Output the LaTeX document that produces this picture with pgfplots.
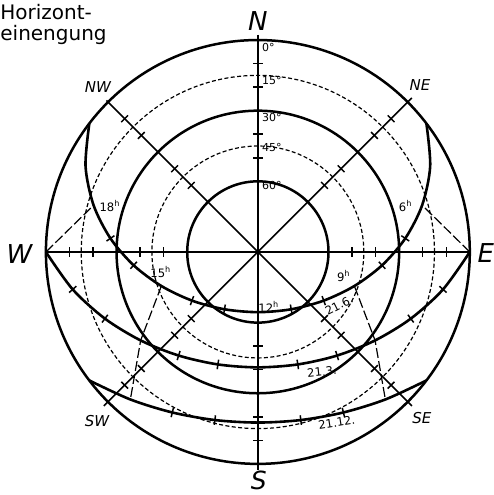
\documentclass[border=0pt]{standalone}
\usepackage{fontspec}
\setmainfont{DejaVu Sans}
\usepackage{pgfplots}
\usepackage{pgfplotstable}
\pgfplotsset{compat=1.18}

% sun paths, latitude about 49 N: azimuth from north (clockwise), altitude in degrees
\pgfplotstableread{
az alt
52.68 0
63.59 8.30
74.12 17.47
84.73 27.13
96.12 36.95
109.42 46.54
126.44 55.23
149.79 61.84
180 64.44
210.21 61.84
233.56 55.23
250.58 46.54
263.88 36.95
275.27 27.13
285.88 17.47
296.41 8.30
307.32 0
}\juni
\pgfplotstableread{
az alt
90 0
101.43 9.78
113.55 19.15
127.04 27.64
142.58 34.62
160.45 39.32
180 41
199.55 39.32
217.42 34.62
232.96 27.64
246.45 19.15
258.57 9.78
270 0
}\maerz
\pgfplotstableread{
az alt
127.32 0
139.16 7.21
151.94 12.77
165.67 16.33
180 17.56
194.33 16.33
208.06 12.77
220.84 7.21
232.68 0
}\dezember
% hour lines
\pgfplotstableread{
az alt
270 0
285.88 17.47
}\hEighteen
\pgfplotstableread{
az alt
90 0
74.12 17.47
}\hSix
\pgfplotstableread{
az alt
250.58 46.54
232.96 27.64
220.84 7.21
}\hFifteen
\pgfplotstableread{
az alt
109.42 46.54
127.04 27.64
139.16 7.21
}\hNine

\pgfplotsset{
  azalt/.style={data cs=polar},
  sun/.style={azalt, line width=1.3pt, smooth, no marks},
  hourline/.style={azalt, line width=0.6pt, no marks, dash pattern=on 5pt off 1.6pt},
  radial/.style={azalt, line width=0.8pt, no marks},
  rtick/.style={azalt, only marks, mark=|, mark size=2.4pt, mark options={line width=0.75pt, rotate=#1}},
}

\begin{document}
\begin{tikzpicture}
\begin{axis}[
  x=1.1778pt, y=1.1778pt,
  xmin=-109.5, xmax=100.2, ymin=-103.2, ymax=107,
  hide axis, clip=false,
]
\coordinate (bl) at (axis cs:-109.5,-103.2);
\coordinate (tr) at (axis cs:100.2,107);

% altitude rings (radius = 90 - altitude)
\draw[line width=1.25pt] (axis cs:0,0) circle[radius=90];
\draw[line width=1.25pt] (axis cs:0,0) circle[radius=60];
\draw[line width=1.25pt] (axis cs:0,0) circle[radius=30];
\draw[line width=0.6pt, dash pattern=on 2pt off 1.2pt] (axis cs:0,0) circle[radius=75];
\draw[line width=0.6pt, dash pattern=on 2pt off 1.2pt] (axis cs:0,0) circle[radius=45];

% direction lines (angle, radius)
\addplot[radial] coordinates {(90,92.3) (270,92.5)};
\addplot[radial] coordinates {(0,90.5) (180,90.5)};
\addplot[radial] coordinates {(45,92.5) (225,92.5)};
\addplot[radial] coordinates {(135,91) (315,92.5)};

% altitude ticks at 10, 20, 40, 50 degrees
\addplot[rtick=90] coordinates {(90,80) (90,70) (90,50) (90,40) (270,80) (270,70) (270,50) (270,40)};
\addplot[rtick=0] coordinates {(0,80) (0,70) (0,50) (0,40) (180,80) (180,70) (180,50) (180,40)};
\addplot[rtick=45] coordinates {(45,80) (45,70) (45,50) (45,40) (225,80) (225,70) (225,50) (225,40)};
\addplot[rtick=135] coordinates {(135,80) (135,70) (135,50) (135,40) (315,80) (315,70) (315,50) (315,40)};

% sun paths
\addplot[sun] table[x expr={90-\thisrow{az}}, y expr={90-\thisrow{alt}}] {\juni};
\addplot[sun] table[x expr={90-\thisrow{az}}, y expr={90-\thisrow{alt}}] {\maerz};
\addplot[sun] table[x expr={90-\thisrow{az}}, y expr={90-\thisrow{alt}}] {\dezember};

% hour lines
\addplot[hourline] table[x expr={90-\thisrow{az}}, y expr={90-\thisrow{alt}}] {\hEighteen};
\addplot[hourline] table[x expr={90-\thisrow{az}}, y expr={90-\thisrow{alt}}] {\hSix};
\addplot[hourline] table[x expr={90-\thisrow{az}}, y expr={90-\thisrow{alt}}] {\hFifteen};
\addplot[hourline] table[x expr={90-\thisrow{az}}, y expr={90-\thisrow{alt}}] {\hNine};

% hour ticks on the sun paths (angle, radius), rotated along the path
\addplot[rtick=56] coordinates {(5.27,62.87)};
\addplot[rtick=43] coordinates {(-6.12,53.05)};
\addplot[rtick=20] coordinates {(-36.44,34.77)};
\addplot[rtick=10] coordinates {(-59.79,28.16)};
\addplot[rtick=-10] coordinates {(-120.21,28.16)};
\addplot[rtick=-20] coordinates {(-143.56,34.77)};
\addplot[rtick=-43] coordinates {(-173.88,53.05)};
\addplot[rtick=-56] coordinates {(-185.27,62.87)};
\addplot[rtick=48.5] coordinates {(-11.43,80.22)};
\addplot[rtick=36.8] coordinates {(-23.55,70.85)};
\addplot[rtick=17.3] coordinates {(-52.58,55.38)};
\addplot[rtick=8.5] coordinates {(-70.45,50.68)};
\addplot[rtick=-8.5] coordinates {(-109.55,50.68)};
\addplot[rtick=-17.3] coordinates {(-127.42,55.38)};
\addplot[rtick=-36.8] coordinates {(-156.45,70.85)};
\addplot[rtick=-48.5] coordinates {(-168.57,80.22)};
\addplot[rtick=13.7] coordinates {(-61.94,77.23)};
\addplot[rtick=6.7] coordinates {(-75.67,73.67)};
\addplot[rtick=-6.7] coordinates {(-104.33,73.67)};
\addplot[rtick=-13.7] coordinates {(-118.06,77.23)};

% labels
\node[anchor=north west, align=left, inner sep=0pt, font=\fontsize{10}{10.5}\selectfont] at (axis cs:-109.5,105.3) {Horizont-\\einengung};
\node[font=\fontsize{13}{13}\selectfont\itshape] at (axis cs:0,98.1) {N};
\node[font=\fontsize{12.5}{12.5}\selectfont\itshape] at (axis cs:0.4,-97.2) {S};
\node[font=\fontsize{13}{13}\selectfont\itshape] at (axis cs:-101.2,-0.8) {W};
\node[font=\fontsize{13}{13}\selectfont\itshape] at (axis cs:96.8,-0.4) {E};
\node[font=\fontsize{7.5}{7.5}\selectfont\itshape] at (axis cs:-67.9,70.0) {NW};
\node[font=\fontsize{7.5}{7.5}\selectfont\itshape] at (axis cs:68.8,70.9) {NE};
\node[font=\fontsize{7.5}{7.5}\selectfont\itshape] at (axis cs:-68.3,-71.7) {SW};
\node[font=\fontsize{7.5}{7.5}\selectfont\itshape] at (axis cs:69.6,-70.5) {SE};

\begin{scope}[every node/.style={anchor=west, inner sep=0.5pt, font=\fontsize{5.5}{5.5}\selectfont}]
\node at (axis cs:1.2,87.0) {0°};
\node at (axis cs:1.2,73.0) {15°};
\node at (axis cs:1.2,57.3) {30°};
\node at (axis cs:1.2,44.2) {45°};
\node at (axis cs:1.2,28.4) {60°};
\end{scope}

\begin{scope}[every node/.style={inner sep=0pt, font=\fontsize{5.8}{5.8}\selectfont}]
\node at (axis cs:-62.8,19.5) {18\textsuperscript{h}};
\node at (axis cs:62.8,19.5) {6\textsuperscript{h}};
\node at (axis cs:-41.2,-8.5) {15\textsuperscript{h}};
\node at (axis cs:36.5,-10.0) {9\textsuperscript{h}};
\node at (axis cs:4.7,-23.3) {12\textsuperscript{h}};
\node[rotate=27] at (axis cs:34.5,-22.6) {21.6.};
\node[rotate=6] at (axis cs:27.2,-50.9) {21.3.};
\node[rotate=9] at (axis cs:33.5,-72.3) {21.12.};
\end{scope}
\end{axis}
\pgfresetboundingbox
\path (bl) rectangle (tr);
\end{tikzpicture}
\end{document}
